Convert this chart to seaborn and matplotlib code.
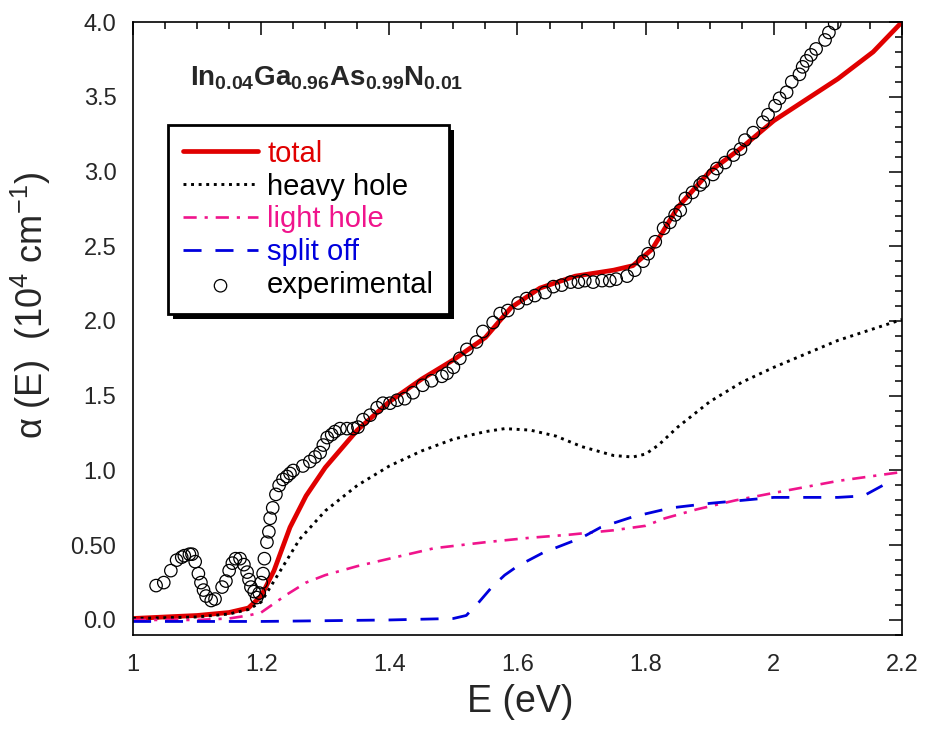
import numpy as np
import pandas as pd
import matplotlib
matplotlib.use("Agg")
import matplotlib.pyplot as plt
from matplotlib.patches import Rectangle
from matplotlib.transforms import IdentityTransform
import seaborn as sns

# photon energy grids (eV) and absorption (10^4 cm^-1)
e_total = [1.0, 1.05, 1.1, 1.15, 1.18, 1.2, 1.22, 1.245, 1.27, 1.3, 1.35, 1.4,
           1.45, 1.5, 1.55, 1.59, 1.635, 1.69, 1.75, 1.78, 1.81, 1.85, 1.9,
           1.95, 2.0, 2.05, 2.1, 2.155, 2.2]
a_total = [0.01, 0.02, 0.03, 0.05, 0.08, 0.16, 0.33, 0.62, 0.83, 1.02, 1.27, 1.46,
           1.61, 1.74, 1.89, 2.09, 2.22, 2.3, 2.34, 2.37, 2.48, 2.76, 3.0,
           3.16, 3.34, 3.48, 3.62, 3.8, 4.0]

e_hh = [1.0, 1.1, 1.15, 1.18, 1.2, 1.23, 1.26, 1.3, 1.35, 1.4, 1.45, 1.5, 1.55,
        1.58, 1.62, 1.66, 1.7, 1.75, 1.78, 1.8, 1.82, 1.85, 1.9, 1.95, 2.0,
        2.05, 2.1, 2.15, 2.2]
a_hh = [0.01, 0.02, 0.04, 0.07, 0.12, 0.33, 0.54, 0.73, 0.9, 1.03, 1.13, 1.21,
        1.26, 1.28, 1.27, 1.23, 1.16, 1.1, 1.09, 1.11, 1.17, 1.29, 1.46, 1.59,
        1.69, 1.78, 1.87, 1.94, 2.01]

e_lh = [1.0, 1.1, 1.15, 1.18, 1.2, 1.24, 1.27, 1.3, 1.35, 1.4, 1.47, 1.55, 1.62,
        1.68, 1.75, 1.8, 1.83, 1.88, 1.94, 2.0, 2.05, 2.1, 2.15, 2.2]
a_lh = [0.0, 0.0, 0.01, 0.03, 0.05, 0.17, 0.25, 0.3, 0.36, 0.41, 0.48, 0.52, 0.55,
        0.57, 0.6, 0.63, 0.68, 0.74, 0.8, 0.85, 0.89, 0.93, 0.96, 0.99]

e_so = [1.0, 1.2, 1.4, 1.5, 1.52, 1.54, 1.56, 1.58, 1.6, 1.64, 1.67, 1.7, 1.73,
        1.78, 1.84, 1.9, 2.0, 2.1, 2.14, 2.17, 2.18]
a_so = [-0.01, -0.01, 0.0, 0.01, 0.03, 0.12, 0.22, 0.3, 0.36, 0.45, 0.5, 0.55,
        0.62, 0.69, 0.75, 0.78, 0.82, 0.82, 0.83, 0.9, 0.93]

e_exp = [1.036, 1.048, 1.059, 1.068, 1.076, 1.08, 1.088, 1.092, 1.097, 1.102,
         1.106, 1.11, 1.114, 1.122, 1.128, 1.139, 1.145, 1.15, 1.155, 1.16,
         1.167, 1.173, 1.178, 1.181, 1.184, 1.189, 1.193, 1.197, 1.2, 1.203,
         1.205, 1.209, 1.212, 1.214, 1.218, 1.223, 1.228, 1.234, 1.24, 1.245,
         1.25, 1.265, 1.276, 1.284, 1.292, 1.297, 1.303, 1.31, 1.315, 1.323,
         1.334, 1.344, 1.351, 1.359, 1.37, 1.381, 1.39, 1.401, 1.412, 1.424,
         1.437, 1.452, 1.466, 1.482, 1.49, 1.5, 1.51, 1.521, 1.536, 1.546,
         1.562, 1.573, 1.585, 1.601, 1.614, 1.627, 1.643, 1.656, 1.669, 1.683,
         1.695, 1.705, 1.718, 1.732, 1.744, 1.754, 1.771, 1.783, 1.796, 1.804,
         1.815, 1.828, 1.838, 1.846, 1.854, 1.862, 1.873, 1.885, 1.89, 1.905,
         1.911, 1.924, 1.937, 1.948, 1.955, 1.968, 1.983, 1.991, 2.002, 2.009,
         2.02, 2.028, 2.04, 2.045, 2.051, 2.058, 2.066, 2.08, 2.086, 2.095]
a_exp = [0.23, 0.25, 0.33, 0.40, 0.42, 0.43, 0.44, 0.44, 0.39, 0.31,
         0.25, 0.20, 0.16, 0.13, 0.14, 0.22, 0.26, 0.33, 0.38, 0.41,
         0.41, 0.37, 0.32, 0.27, 0.22, 0.19, 0.15, 0.18, 0.25, 0.31,
         0.41, 0.52, 0.59, 0.68, 0.75, 0.84, 0.90, 0.94, 0.96, 0.98,
         1.0, 1.03, 1.06, 1.09, 1.12, 1.17, 1.22, 1.24, 1.26, 1.28,
         1.28, 1.28, 1.29, 1.34, 1.37, 1.42, 1.45, 1.45, 1.47, 1.48,
         1.52, 1.57, 1.60, 1.63, 1.65, 1.69, 1.75, 1.81, 1.86, 1.93,
         1.99, 2.05, 2.07, 2.12, 2.15, 2.17, 2.19, 2.23, 2.24, 2.26,
         2.26, 2.27, 2.26, 2.27, 2.27, 2.28, 2.30, 2.34, 2.40, 2.45,
         2.53, 2.62, 2.66, 2.71, 2.74, 2.82, 2.86, 2.91, 2.93, 2.98,
         3.02, 3.06, 3.11, 3.15, 3.21, 3.26, 3.33, 3.38, 3.44, 3.49,
         3.53, 3.60, 3.65, 3.70, 3.74, 3.78, 3.82, 3.88, 3.93, 3.99]

x_ticks = [1.0, 1.2, 1.4, 1.6, 1.8, 2.0, 2.2]
x_ticklabels = ["1", "1.2", "1.4", "1.6", "1.8", "2", "2.2"]
y_ticks = [0.0, 0.5, 1.0, 1.5, 2.0, 2.5, 3.0, 3.5, 4.0]
y_ticklabels = ["0.0", "0.50", "1.0", "1.5", "2.0", "2.5", "3.0", "3.5", "4.0"]

RED = "#e00000"
PINK = "#f0148c"
BLUE = "#0000dd"

sns.set_style("white")
plt.rcParams["font.family"] = ["Liberation Sans", "DejaVu Sans"]
plt.rcParams["mathtext.fontset"] = "custom"
plt.rcParams["mathtext.rm"] = "Liberation Sans"
plt.rcParams["mathtext.it"] = "Liberation Sans"
plt.rcParams["mathtext.bf"] = "Liberation Sans:bold"

fig = plt.figure(figsize=(9.27, 7.34), dpi=100)
ax = fig.add_axes([0.1435, 0.135, 0.8295, 0.835])

sns.lineplot(x=e_total, y=a_total, ax=ax, color=RED, lw=3.4, label="total")
sns.lineplot(x=e_hh, y=a_hh, ax=ax, color="black", lw=2.1,
             linestyle=(0, (1, 1.6)), label="heavy hole")
sns.lineplot(x=e_lh, y=a_lh, ax=ax, color=PINK, lw=1.9,
             linestyle=(0, (5, 3, 1.2, 3)), label="light hole")
sns.lineplot(x=e_so, y=a_so, ax=ax, color=BLUE, lw=2.0,
             linestyle=(0, (6.5, 5)), label="split off")
sns.scatterplot(x=e_exp, y=a_exp, ax=ax, marker="o", s=80, facecolor="none",
                edgecolor="black", linewidth=0.9, label="experimental", zorder=3)

ax.set_xlim(1.0, 2.2)
ax.set_ylim(-0.1, 4.0)
ax.set_xticks(x_ticks)
ax.set_xticklabels(x_ticklabels)
ax.set_yticks(y_ticks)
ax.set_yticklabels(y_ticklabels)
ax.set_xticks(np.arange(1.0, 2.2001, 0.05), minor=True)
ax.set_yticks(np.arange(-0.1, 4.0001, 0.1), minor=True)
ax.tick_params(which="both", direction="in", top=True, right=True, width=1.1, color="black")
ax.tick_params(which="major", length=9.5, labelsize=17)
ax.tick_params(which="minor", length=5)
ax.tick_params(axis="x", which="major", pad=14)
ax.tick_params(axis="y", which="major", pad=12)
for s in ax.spines.values():
    s.set_color("black")
    s.set_linewidth(1.2)

ax.set_xlabel("E (eV)", fontsize=27)
ax.set_ylabel("α (E)  (10$^{4}$ cm$^{-1}$)", fontsize=26)
ax.xaxis.set_label_coords(0.503, -0.08)
ax.yaxis.set_label_coords(-0.104, 0.538)

ax.text(0.074, 0.909,
        r"$\mathbf{In_{0.04}Ga_{0.96}As_{0.99}N_{0.01}}$",
        transform=ax.transAxes, fontsize=20, ha="left", va="center")

leg = ax.legend(loc="upper left", bbox_to_anchor=(0.0455, 0.832), borderaxespad=0,
                fontsize=21, frameon=True, fancybox=False, shadow=False,
                handlelength=2.6, handletextpad=0.3, labelspacing=0.17,
                borderpad=0.5,
                labelcolor=[RED, "black", PINK, BLUE, "black"])
leg.get_frame().set_edgecolor("black")
leg.get_frame().set_linewidth(2.0)
leg.get_frame().set_alpha(1)

# solid black drop shadow behind the legend box
fig.canvas.draw()
bb = leg.get_frame().get_window_extent(fig.canvas.get_renderer())
ax.add_patch(Rectangle((bb.x0 + 5, bb.y0 - 5), bb.width, bb.height,
                       facecolor="black", edgecolor="none",
                       transform=IdentityTransform(), clip_on=False, zorder=4.9))

fig.savefig("out.png", dpi=100)
